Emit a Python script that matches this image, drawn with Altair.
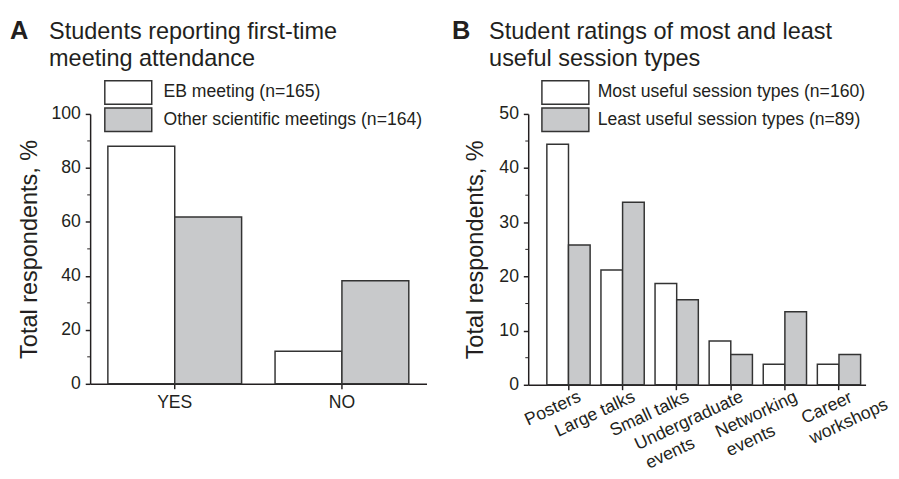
import altair as alt
import pandas as pd

FONT = "Liberation Sans"
TXT = "#231f20"
STROKE = "#333333"
GRAY = "#c8c9cb"
NB = "\u00a0"
ZW = "\u200b"

# ---------- Panel A data ----------
a_categories = ["YES", "NO"]
a_series = ["EB meeting (n=165)", "Other scientific meetings (n=164)"]
a_eb = [88.0, 12.1]
a_other = [61.8, 38.2]
a_yticks = [0, 20, 40, 60, 80, 100]
a_minor = [10, 30, 50, 70, 90]
a_title = ["Students reporting first-time", "meeting attendance"]

# ---------- Panel B data ----------
b_categories = ["Posters", "Large talks", "Small talks",
                "Undergraduate|events", "Networking|events", "Career|workshops"]
b_series = ["Most useful session types (n=160)", "Least useful session types (n=89)"]
b_most = [44.4, 21.2, 18.7, 8.1, 3.8, 3.8]
b_least = [25.8, 33.7, 15.7, 5.6, 13.5, 5.6]
b_yticks = [0, 10, 20, 30, 40, 50]
b_minor = [5, 15, 25, 35, 45]
b_title = ["Student ratings of most and least", "useful session types"]

# padding (non-breaking spaces) so the two label lines look left aligned
b_pad = {"Undergraduate|events": ("", NB * 13),
         "Networking|events": ("", NB * 7),
         "Career|workshops": (NB * 6, "")}


def long_df(cats, series, s1, s2):
    rows = []
    for c, v1, v2 in zip(cats, s1, s2):
        rows.append({"cat": c, "series": series[0], "value": v1})
        rows.append({"cat": c, "series": series[1], "value": v2})
    return pd.DataFrame(rows)


def make_panel(df, cats, series, yticks, minor, ymax, title_lines, letter,
               width, height, pad_outer, align, xaxis, legend_xy, title_x,
               letter_x, label_offset, title_pad):
    bars = alt.Chart(df).mark_bar(stroke=STROKE, strokeWidth=1.5).encode(
        x=alt.X("cat:N", sort=cats, title=None,
                scale=alt.Scale(paddingInner=0.2, paddingOuter=pad_outer, align=align),
                axis=xaxis),
        xOffset=alt.XOffset("series:N", sort=series,
                            scale=alt.Scale(paddingInner=0, paddingOuter=0)),
        y=alt.Y("value:Q", scale=alt.Scale(domain=[0, ymax], nice=False),
                axis=alt.Axis(values=yticks, title="Total respondents, %",
                              titleFontSize=24, titleFont=FONT, titleFontWeight="normal",
                              titleColor=TXT, titlePadding=title_pad,
                              labelFontSize=18, labelFont=FONT, labelColor=TXT,
                              labelPadding=5, tickSize=5, tickWidth=1.5, tickColor=TXT,
                              domainColor=TXT, domainWidth=1.5, grid=False)),
        color=alt.Color("series:N", sort=series, title=None,
                        scale=alt.Scale(domain=series, range=["white", GRAY]),
                        legend=alt.Legend(orient="none", legendX=legend_xy[0],
                                          legendY=legend_xy[1], padding=0,
                                          symbolType="M-2,-1H2V1H-2Z",
                                          symbolSize=576, symbolStrokeColor=STROKE,
                                          symbolStrokeWidth=1.5, symbolOpacity=1,
                                          labelFontSize=18, labelFont=FONT,
                                          labelColor=TXT, labelOffset=label_offset,
                                          labelLimit=0, rowPadding=-2)),
    )
    minor_ticks = alt.Chart(pd.DataFrame({"value": minor})).mark_rule(
        color=TXT, strokeWidth=1).encode(
        y=alt.Y("value:Q"), x=alt.value(-3), x2=alt.value(0))
    letter_mark = alt.Chart(pd.DataFrame({"t": [letter]})).mark_text(
        font=FONT, fontSize=26, fontWeight="bold", color=TXT,
        align="left", baseline="alphabetic").encode(
        text="t:N", x=alt.value(letter_x), y=alt.value(-77))
    title_mark = alt.Chart(pd.DataFrame({"t": [letter]})).mark_text(
        font=FONT, fontSize=24, color=TXT, align="left", baseline="alphabetic",
        lineHeight=28).encode(
        text=alt.value(title_lines), x=alt.value(title_x), y=alt.value(-77))
    return alt.layer(bars, minor_ticks, letter_mark, title_mark).properties(
        width=width, height=height)


df_a = long_df(a_categories, a_series, a_eb, a_other)
b_cats_padded = []
for c in b_categories:
    if c in b_pad:
        l1, l2 = c.split("|")
        p1, p2 = b_pad[c]
        b_cats_padded.append(l1 + p1 + ZW + "|" + l2 + p2 + ZW)
    else:
        b_cats_padded.append(c)
df_b = long_df(b_cats_padded, b_series, b_most, b_least)

xaxis_a = alt.Axis(labelAngle=0, labelFontSize=18, labelFont=FONT, labelColor=TXT,
                   labelPadding=5, tickSize=5, tickWidth=1.5, tickColor=TXT,
                   domainColor=TXT, domainWidth=1.5, grid=False)
career_test = "indexof(datum.label, 'Career') >= 0"
xaxis_b = alt.Axis(labelAngle=335, labelAlign="right", labelBaseline="top",
                   labelExpr="split(datum.label, '|')", labelLineHeight=22,
                   labelFontSize=18, labelFont=FONT, labelColor=TXT,
                   labelOffset={"condition": {"test": career_test, "value": 36}, "value": 8},
                   labelPadding={"condition": {"test": career_test, "value": -14}, "value": -2},
                   tickSize=5, tickWidth=1.5, tickColor=TXT,
                   domainColor=TXT, domainWidth=1.5, grid=False, labelLimit=0)

panel_a = make_panel(df_a, a_categories, a_series, a_yticks, a_minor, 100, a_title, "A",
                     344, 276, 0.106, 0.5, xaxis_a, (26, -35), -42, -82, 23, 10)
panel_b = make_panel(df_b, b_cats_padded, b_series, b_yticks, b_minor, 50, b_title, "B",
                     345, 277, 0.218, 0.79, xaxis_b, (25, -35), -40, -78, 20, 12)

chart = alt.hconcat(panel_a, panel_b, spacing=26).resolve_scale(
    color="independent", xOffset="independent").resolve_legend(
    color="independent").properties(
    padding={"left": 2, "top": 5, "right": 0, "bottom": 0}
).configure_view(stroke=None)

chart.save("out.html", embed_options={"renderer": "svg", "actions": False})
